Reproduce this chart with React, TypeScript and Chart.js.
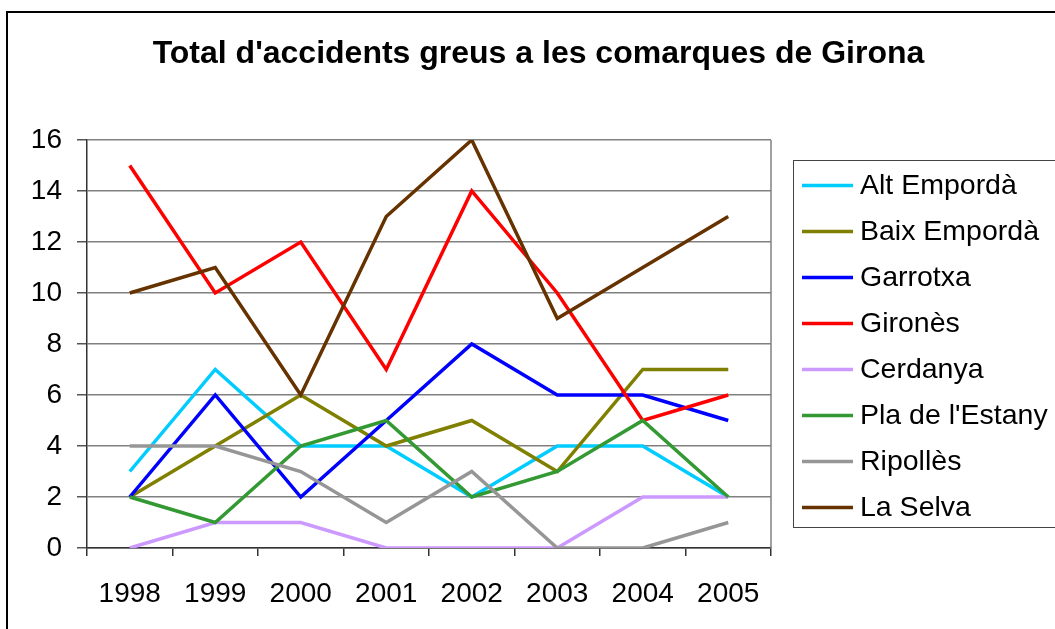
import React, { useEffect, useRef } from "react";
import { Chart, registerables } from "chart.js";

Chart.register(...registerables);

const TITLE = "Total d'accidents greus a les comarques de Girona";
const YEARS = ["1998", "1999", "2000", "2001", "2002", "2003", "2004", "2005"];
const SERIES_NAMES = [
  "Alt Empordà",
  "Baix Empordà",
  "Garrotxa",
  "Gironès",
  "Cerdanya",
  "Pla de l'Estany",
  "Ripollès",
  "La Selva",
];
const SERIES_COLORS = ["#00CCFF", "#808000", "#0000FF", "#FF0000", "#CC99FF", "#339933", "#969696", "#663300"];
const altEmporda = [3, 7, 4, 4, 2, 4, 4, 2];
const baixEmporda = [2, 4, 6, 4, 5, 3, 7, 7];
const garrotxa = [2, 6, 2, 5, 8, 6, 6, 5];
const girones = [15, 10, 12, 7, 14, 10, 5, 6];
const cerdanya = [0, 1, 1, 0, 0, 0, 2, 2];
const plaEstany = [2, 1, 4, 5, 2, 3, 5, 2];
const ripolles = [4, 4, 3, 1, 3, 0, 0, 1];
const laSelva = [10, 11, 6, 13, 16, 9, 11, 13];
const SERIES_VALUES = [altEmporda, baixEmporda, garrotxa, girones, cerdanya, plaEstany, ripolles, laSelva];
const Y_MIN = 0;
const Y_MAX = 16;
const Y_STEP = 2;

const FONT = '"Liberation Sans", Arial, sans-serif';

const decorPlugin = {
  id: "decor",
  afterDatasetsDraw(chart: any) {
    const { ctx, chartArea } = chart;
    ctx.save();
    ctx.strokeStyle = "#808080";
    ctx.lineWidth = 1.5;
    ctx.beginPath();
    ctx.moveTo(chartArea.right, chartArea.top);
    ctx.lineTo(chartArea.right, chartArea.bottom);
    ctx.stroke();
    ctx.restore();
  },
  afterDraw(chart: any) {
    const { ctx } = chart;
    ctx.save();
    ctx.fillStyle = "#000";
    ctx.font = `bold 32px ${FONT}`;
    ctx.textAlign = "center";
    ctx.textBaseline = "alphabetic";
    ctx.fillText(TITLE, 538.5, 63);

    const boxLeft = 793.5;
    const boxTop = 160.5;
    const boxBottom = 527.5;
    ctx.strokeStyle = "#444";
    ctx.lineWidth = 1;
    ctx.strokeRect(boxLeft, boxTop, 1070 - boxLeft, boxBottom - boxTop);
    ctx.font = `28.5px ${FONT}`;
    ctx.textAlign = "left";
    ctx.textBaseline = "middle";
    chart.data.datasets.forEach((ds: any, i: number) => {
      const y = 185.5 + i * 46;
      ctx.strokeStyle = ds.borderColor;
      ctx.lineWidth = 3.5;
      ctx.beginPath();
      ctx.moveTo(802, y);
      ctx.lineTo(853, y);
      ctx.stroke();
      ctx.fillStyle = "#000";
      ctx.fillText(ds.label, 860, y + 1);
    });
    ctx.restore();
  },
};

export default function App() {
  const canvasRef = useRef<HTMLCanvasElement | null>(null);

  useEffect(() => {
    if (!canvasRef.current) return;
    const chart = new Chart(canvasRef.current, {
      type: "line",
      data: {
        labels: YEARS,
        datasets: SERIES_NAMES.map((name, i) => ({
          label: name,
          data: SERIES_VALUES[i],
          borderColor: SERIES_COLORS[i],
          backgroundColor: SERIES_COLORS[i],
          borderWidth: 3.5,
          pointRadius: 0,
          tension: 0,
          fill: false,
          order: SERIES_NAMES.length - i,
        })),
      },
      options: {
        responsive: false,
        animation: false,
        layout: { padding: { left: 0, right: 284, top: 140, bottom: 0 } },
        plugins: {
          legend: { display: false },
          title: { display: false },
          tooltip: { enabled: false },
        },
        scales: {
          x: {
            offset: true,
            grid: {
              offset: true,
              drawOnChartArea: false,
              drawTicks: true,
              tickLength: 8,
              color: "#333",
              lineWidth: 1.5,
            },
            border: { display: true, color: "#333", width: 1.5 },
            ticks: {
              color: "#000",
              font: { family: FONT, size: 28 },
              padding: 21,
              maxRotation: 0,
              autoSkip: false,
            },
            afterFit: (scale: any) => {
              scale.height = 81;
            },
          },
          y: {
            min: Y_MIN,
            max: Y_MAX,
            grid: {
              color: "#808080",
              lineWidth: 1.5,
              tickLength: 10,
              tickColor: "#555",
            },
            border: { display: true, color: "#333", width: 1.5 },
            ticks: {
              stepSize: Y_STEP,
              color: "#000",
              font: { family: FONT, size: 28 },
              padding: 15,
            },
            afterFit: (scale: any) => {
              scale.width = 87;
            },
          },
        },
      },
      plugins: [decorPlugin],
    });
    return () => chart.destroy();
  }, []);

  return (
    <div
      style={{
        position: "fixed",
        left: 0,
        top: 0,
        width: 1055,
        height: 629,
        overflow: "hidden",
        background: "#fff",
      }}
    >
      <canvas ref={canvasRef} width={1055} height={629} style={{ position: "absolute", left: 0, top: 0 }} />
      <div
        style={{
          position: "absolute",
          left: 6,
          top: 11,
          width: 1200,
          height: 800,
          border: "2px solid #000",
          pointerEvents: "none",
        }}
      />
    </div>
  );
}
